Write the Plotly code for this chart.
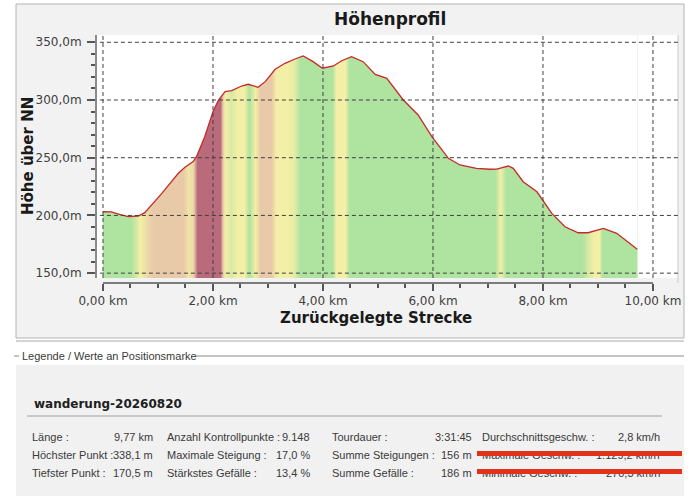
import plotly.graph_objects as go

W, H = 699, 496

# elevation profile
dist_km = [0.00, 0.15, 0.30, 0.46, 0.64, 0.76, 1.07, 1.37, 1.49, 1.64, 1.70, 1.85,
           2.00, 2.10, 2.22, 2.34, 2.52, 2.64, 2.82, 2.95, 3.13, 3.31, 3.49, 3.64,
           3.82, 3.99, 4.19, 4.34, 4.52, 4.73, 4.95, 5.16, 5.46, 5.73, 5.98, 6.28,
           6.49, 6.79, 7.04, 7.16, 7.37, 7.46, 7.64, 7.89, 8.16, 8.40, 8.64, 8.82,
           9.10, 9.34, 9.72]
elev_m = [203.2, 203.0, 201.0, 198.9, 199.5, 202.4, 219.1, 236.5, 241.7, 246.6, 250.9, 268.2,
          289.9, 300.0, 307.2, 308.1, 312.1, 313.6, 311.0, 315.9, 326.6, 331.8, 335.5, 338.1,
          333.2, 327.5, 329.5, 334.0, 337.5, 333.2, 322.2, 318.8, 300.0, 287.0, 268.2, 249.5,
          243.7, 240.8, 240.0, 240.2, 242.8, 240.8, 229.2, 220.5, 201.8, 190.2, 185.0, 185.0,
          188.8, 184.5, 170.5]

# slope colour along the track: 0 green, 1 yellow, 2 tan, 3 dark red
band_km = [0.0, 0.001, 0.50, 0.68, 0.80, 0.90, 1.45, 1.55, 1.62, 1.70, 2.12, 2.22,
           2.32, 2.44, 2.56, 2.66, 2.76, 2.86, 3.05, 3.14, 3.35, 3.48, 3.58, 4.16,
           4.24, 4.40, 4.48, 7.12, 7.22, 7.32, 8.70, 8.82, 8.92, 9.02, 9.08, 9.719, 9.72]
band_level = [0, 0, 0, 1, 1.6, 2, 2, 1.3, 1.5, 3, 3, 1,
              0.6, 1, 1, 0, 1, 2, 2, 1, 1, 0.8, 0, 0,
              1, 1, 0, 0, 1, 0, 0, 0.6, 1, 1, 0, 0, 0]

x_ticks = [0, 2, 4, 6, 8, 10]
y_ticks = [150, 200, 250, 300, 350]

track_name = "wanderung-20260820"
stat_labels = [
    ["Länge :", "Anzahl Kontrollpunkte :", "Tourdauer :", "Durchschnittsgeschw. :"],
    ["Höchster Punkt :", "Maximale Steigung :", "Summe Steigungen :", "Maximale Geschw. :"],
    ["Tiefster Punkt :", "Stärkstes Gefälle :", "Summe Gefälle :", "Minimale Geschw. :"],
]
stat_values = [
    ["9,77 km", "9.148", "3:31:45", "2,8 km/h"],
    ["338,1 m", "17,0 %", "156 m", "1.129,2 km/h"],
    ["170,5 m", "13,4 %", "186 m", "270,3 km/h"],
]
struck_rows = [1, 2]   # last column crossed out in red


def fx(p):
    return p / W


def fy(p):
    return 1 - p / H


fig = go.Figure()

# coloured slope bands, smoothed like the original
fig.add_trace(go.Heatmap(
    x=band_km, y=[140, 360], z=[band_level, band_level],
    zmin=0, zmax=3, zsmooth="best", showscale=False, hoverinfo="skip",
    colorscale=[[0, "#aee3a0"], [0.333, "#f3efa6"], [0.667, "#e8c9a8"], [1, "#b96b7b"]],
))
# white mask above the profile
fig.add_trace(go.Scatter(x=dist_km, y=elev_m, mode="lines", line=dict(width=0),
                         hoverinfo="skip", showlegend=False))
fig.add_trace(go.Scatter(x=dist_km, y=[360] * len(dist_km), mode="lines", line=dict(width=0),
                         fill="tonexty", fillcolor="white", hoverinfo="skip", showlegend=False))
# the profile line
fig.add_trace(go.Scatter(x=dist_km, y=elev_m, mode="lines",
                         line=dict(color="#c82828", width=1.3), showlegend=False))

shapes = [
    # chart panel
    dict(type="rect", xref="paper", yref="paper", x0=fx(16), x1=fx(684), y0=fy(338), y1=fy(4),
         fillcolor="#f2f2f2", line=dict(color="#b4b4b4", width=1), layer="below"),
    # lower panel
    dict(type="rect", xref="paper", yref="paper", x0=fx(16), x1=fx(684), y0=fy(496), y1=fy(365),
         fillcolor="#f1f1f1", line=dict(width=0), layer="below"),
    dict(type="line", xref="paper", yref="paper", x0=fx(16), x1=fx(684), y0=fy(341), y1=fy(341),
         line=dict(color="#a8a8a8", width=1)),
    dict(type="line", xref="paper", yref="paper", x0=fx(14), x1=fx(19), y0=fy(356), y1=fy(356),
         line=dict(color="#8a8a8a", width=1)),
    dict(type="line", xref="paper", yref="paper", x0=fx(196), x1=fx(684), y0=fy(356), y1=fy(356),
         line=dict(color="#8a8a8a", width=1)),
    dict(type="line", xref="paper", yref="paper", x0=fx(27), x1=fx(662), y0=fy(416), y1=fy(416),
         line=dict(color="#a0a0a0", width=1)),
    # x axis line, only under the 0-10 km range
    dict(type="line", xref="x", yref="paper", x0=0, x1=10, y0=fy(283), y1=fy(283),
         line=dict(color="#555555", width=1.5)),
    # keep the smoothed band image inside the track length
    dict(type="rect", xref="x", yref="y domain", x0=dist_km[-1], x1=10.6, y0=0, y1=1,
         fillcolor="white", line=dict(width=0), layer="above"),
    dict(type="rect", xref="x", yref="y domain", x0=-0.2, x1=dist_km[0], y0=0, y1=1,
         fillcolor="white", line=dict(width=0), layer="above"),
    # faint right frame edge
    dict(type="line", xref="paper", yref="paper", x0=fx(678), x1=fx(678), y0=fy(283), y1=fy(35),
         line=dict(color="#c8c8c8", width=1)),
]
for v in y_ticks:
    shapes.append(dict(type="line", xref="x domain", yref="y", x0=0.005, x1=1, y0=v, y1=v,
                       line=dict(color="#404040", width=1, dash="4px,3px"), layer="above"))
for v in x_ticks:
    shapes.append(dict(type="line", xref="x", yref="y domain", x0=v, x1=v, y0=0, y1=1,
                       line=dict(color="#404040", width=1, dash="4px,3px"), layer="above"))

label_font = dict(family="Liberation Sans, Arial, sans-serif", size=11, color="#3a3a3a")
ann = [
    dict(text="<b>Höhenprofil</b>", x=fx(390), y=fy(19),
         font=dict(family="DejaVu Sans", size=17, color="#1a1a1a")),
    dict(text="<b>Zurückgelegte Strecke</b>", x=fx(376), y=fy(318),
         font=dict(family="DejaVu Sans", size=15, color="#1a1a1a")),
    dict(text="<b>Höhe über NN</b>", x=fx(28), y=fy(156), textangle=-90,
         font=dict(family="DejaVu Sans", size=15, color="#1a1a1a")),
    dict(text="Legende / Werte an Positionsmarke", x=fx(20), y=fy(356), xanchor="left",
         font=label_font),
    dict(text="<b>" + track_name + "</b>", x=fx(32), y=fy(404), xanchor="left",
         font=dict(family="DejaVu Sans", size=12, color="#202020")),
]
col_label_x = [30, 165, 330, 480]
col_value_x = [155, 312, 474, 662]
row_y = [437, 455, 473]
for r in range(3):
    for c in range(4):
        ann.append(dict(text=stat_labels[r][c], x=fx(col_label_x[c]), y=fy(row_y[r]),
                        xanchor="left", font=label_font))
        ann.append(dict(text=stat_values[r][c], x=fx(col_value_x[c]), y=fy(row_y[r]),
                        xanchor="right", font=label_font))
# red strike bars drawn on top of the hidden values
for r in struck_rows:
    ann.append(dict(text="—", x=fx(579), y=fy(row_y[r] - 1.7), width=205, height=5,
                    bgcolor="#e2321a", borderpad=0, borderwidth=0,
                    font=dict(size=5, color="#e2321a")))
for a in ann:
    a.setdefault("xref", "paper")
    a.setdefault("yref", "paper")
    a.setdefault("showarrow", False)
    a.setdefault("yanchor", "middle")
    a.setdefault("xanchor", "center")

y_text = [f"{v:.1f}m".replace(".", ",") for v in y_ticks]
x_text = [f"{v:.2f} km".replace(".", ",") for v in x_ticks]

fig.update_layout(
    width=W, height=H,
    margin=dict(l=0, r=0, t=0, b=0, autoexpand=False),
    paper_bgcolor="white",
    plot_bgcolor="white",
    showlegend=False,
    shapes=shapes,
    annotations=ann,
    xaxis=dict(domain=[fx(97), fx(678)], range=[-0.109, 10.455], anchor="free", position=fy(283),
               tickvals=x_ticks, ticktext=x_text, showgrid=False, zeroline=False, automargin=False,
               showline=False, ticks="outside", ticklen=7, tickwidth=1.5, tickcolor="#555555",
               minor=dict(dtick=0.5, ticks="outside", ticklen=4, tickcolor="#555555", showgrid=False),
               tickfont=dict(family="DejaVu Sans", size=12, color="#404040")),
    yaxis=dict(domain=[fy(278), fy(35)], range=[145.8, 356.3], automargin=False,
               tickvals=y_ticks, ticktext=y_text, showgrid=False, zeroline=False,
               showline=True, linecolor="#8a8a8a", linewidth=2, ticks="outside", ticklen=8,
               tickwidth=1.5, tickcolor="#555555", ticklabelstandoff=3,
               minor=dict(dtick=10, ticks="outside", ticklen=4, tickcolor="#555555", showgrid=False),
               tickfont=dict(family="DejaVu Sans", size=12, color="#404040")),
)

fig.write_html("out.html", config={"displayModeBar": False},
               post_script="document.body.style.margin='0';")
